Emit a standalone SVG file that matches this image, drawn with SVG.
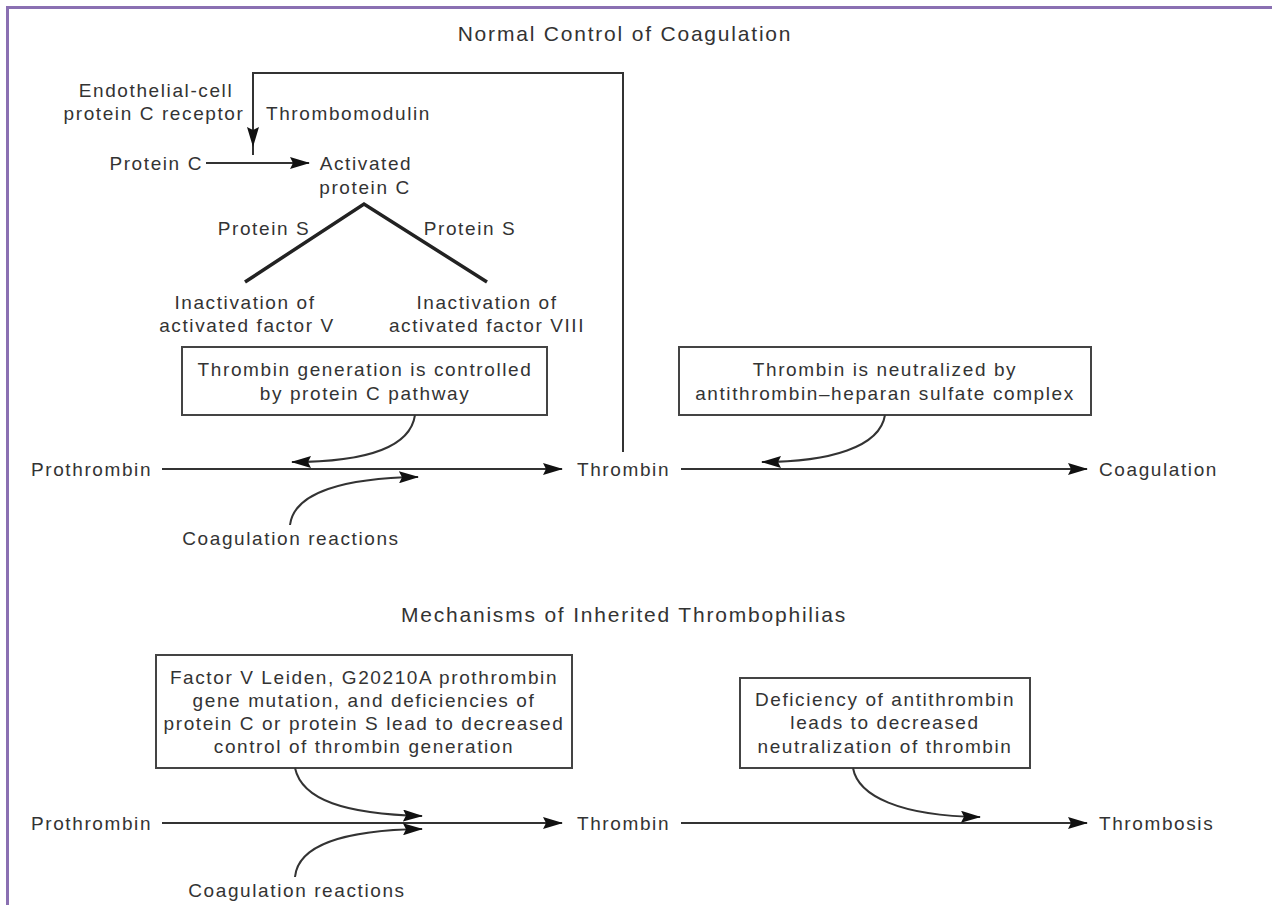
<svg xmlns="http://www.w3.org/2000/svg" width="1272" height="905" viewBox="0 0 1272 905">
<defs>
<style>
text{font-family:"Liberation Sans",Arial,sans-serif;font-size:19px;fill:#333;letter-spacing:1.6px}
.t{font-size:21px;letter-spacing:1.8px;text-anchor:middle}
.c{text-anchor:middle}
.e{text-anchor:end}
.box{fill:#fff;stroke:#444;stroke-width:2}
.ln{fill:none;stroke:#333;stroke-width:2}
.thick{fill:none;stroke:#222;stroke-width:3.5}
</style>
<marker id="ah" viewBox="0 0 20 12" refX="19" refY="6" markerWidth="20" markerHeight="12" markerUnits="userSpaceOnUse" orient="auto">
<path d="M0,0 L20,6 L0,12 L3,6 z" fill="#111"/>
</marker>
</defs>
<rect width="1272" height="905" fill="#fff"/>
<path d="M7.5,905 V7.5 H1272" fill="none" stroke="#8a70b2" stroke-width="3"/>

<g id="title1"><text class="t" x="625" y="41">Normal Control of Coagulation</text></g>
<g id="epcr"><text class="c" x="156" y="97">Endothelial-cell</text><text class="c" x="154" y="120">protein C receptor</text></g>
<g id="thrombomodulin"><text x="266" y="120">Thrombomodulin</text></g>
<g id="proteinC"><text class="e" x="203" y="170">Protein C</text></g>
<g id="apc"><text class="c" x="366" y="170">Activated</text><text class="c" x="365" y="194">protein C</text></g>
<g id="proteinS1"><text class="c" x="264" y="235">Protein S</text></g>
<g id="proteinS2"><text class="c" x="470" y="235">Protein S</text></g>
<g id="inactV"><text class="c" x="245" y="309">Inactivation of</text><text class="c" x="247" y="332">activated factor V</text></g>
<g id="inactVIII"><text class="c" x="487" y="309">Inactivation of</text><text class="c" x="487" y="332">activated factor VIII</text></g>

<g id="box1"><rect class="box" x="182" y="347" width="365" height="68"/><text class="c" x="365" y="376">Thrombin generation is controlled</text><text class="c" x="365" y="400">by protein C pathway</text></g>
<g id="box2"><rect class="box" x="679" y="347" width="412" height="68"/><text class="c" x="885" y="376">Thrombin is neutralized by</text><text class="c" x="885" y="400">antithrombin–heparan sulfate complex</text></g>

<g id="prothrombin1"><text x="31" y="476">Prothrombin</text></g>
<g id="thrombin1"><text x="577" y="476">Thrombin</text></g>
<g id="coagulation"><text x="1099" y="476">Coagulation</text></g>
<g id="coagreact1"><text class="c" x="291" y="545">Coagulation reactions</text></g>

<g id="title2"><text class="t" x="624" y="622">Mechanisms of Inherited Thrombophilias</text></g>
<g id="box3"><rect class="box" x="156" y="655" width="416" height="113"/>
<text class="c" x="364" y="684">Factor V Leiden, G20210A prothrombin</text>
<text class="c" x="364" y="707">gene mutation, and deficiencies of</text>
<text class="c" x="364" y="730">protein C or protein S lead to decreased</text>
<text class="c" x="364" y="753">control of thrombin generation</text></g>
<g id="box4"><rect class="box" x="740" y="678" width="290" height="90"/>
<text class="c" x="885" y="706">Deficiency of antithrombin</text>
<text class="c" x="885" y="729">leads to decreased</text>
<text class="c" x="885" y="753">neutralization of thrombin</text></g>

<g id="prothrombin2"><text x="31" y="830">Prothrombin</text></g>
<g id="thrombin2"><text x="577" y="830">Thrombin</text></g>
<g id="thrombosis"><text x="1099" y="830">Thrombosis</text></g>
<g id="coagreact2"><text class="c" x="297" y="897">Coagulation reactions</text></g>

<g id="connectors">
<path class="ln" d="M623,452 V73 H253 V155"/>
<path class="ln" d="M253,120 V146" marker-end="url(#ah)"/>
<path class="ln" d="M206,163 H309" marker-end="url(#ah)"/>
<path class="thick" d="M245,282 L364,204 L487,282"/>
<path class="ln" d="M162,469 H562" marker-end="url(#ah)"/>
<path class="ln" d="M681,469 H1087" marker-end="url(#ah)"/>
<path class="ln" d="M415,415 C410,450 360,462 292,462" marker-end="url(#ah)"/>
<path class="ln" d="M290,525 C294,492 345,478 418,477" marker-end="url(#ah)"/>
<path class="ln" d="M885,415 C880,447 830,462 762,462" marker-end="url(#ah)"/>
<path class="ln" d="M162,823 H562" marker-end="url(#ah)"/>
<path class="ln" d="M681,823 H1087" marker-end="url(#ah)"/>
<path class="ln" d="M295,768 C302,800 345,814 422,816" marker-end="url(#ah)"/>
<path class="ln" d="M295,877 C298,845 345,830 422,829" marker-end="url(#ah)"/>
<path class="ln" d="M853,768 C858,796 900,816 980,817" marker-end="url(#ah)"/>
</g>
</svg>
